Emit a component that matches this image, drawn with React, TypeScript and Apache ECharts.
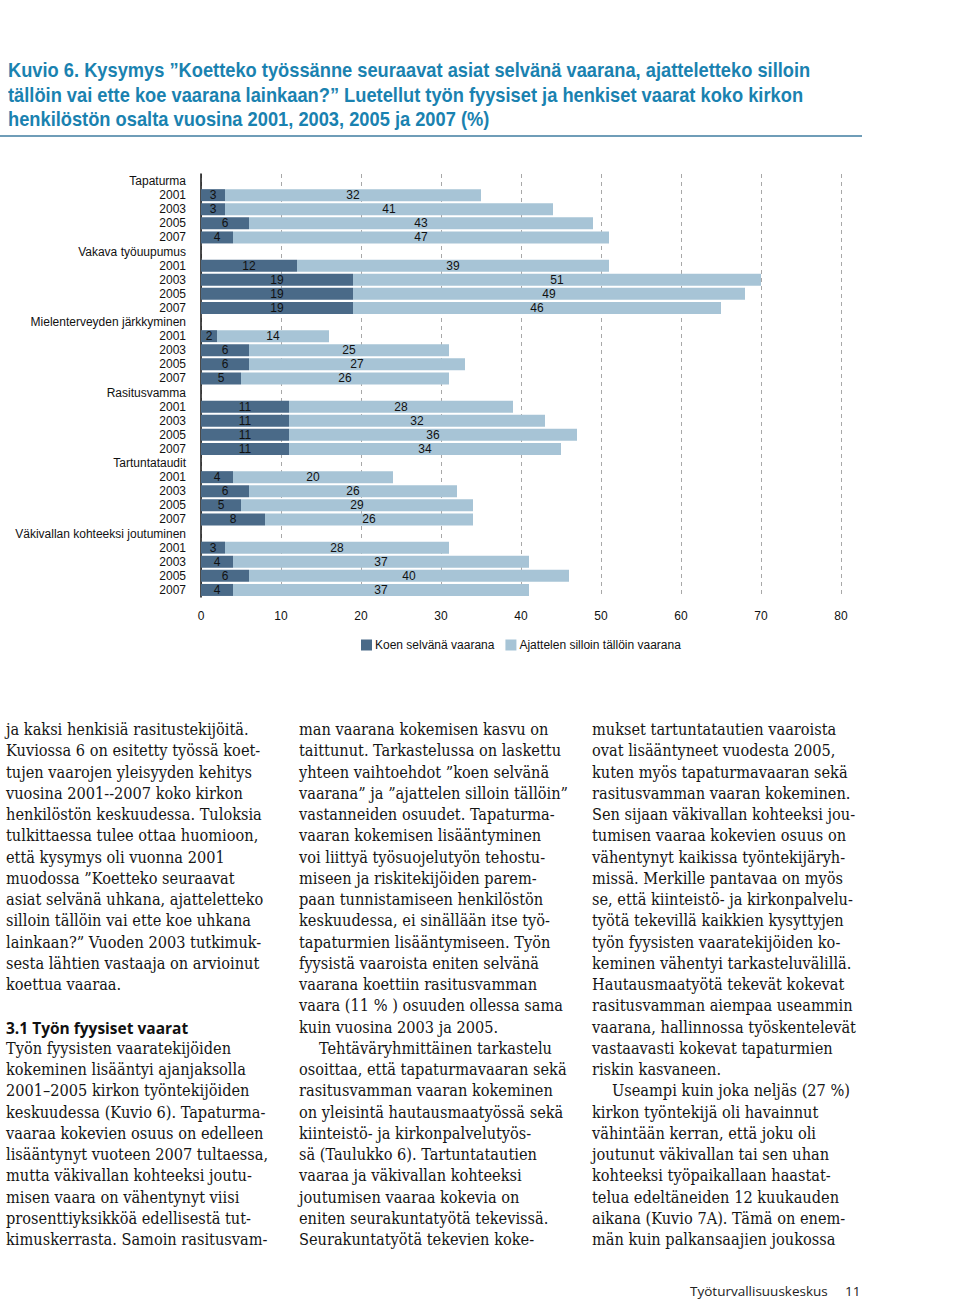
import React, { useEffect, useRef } from "react";
import * as echarts from "echarts";

const groups = [
  "Tapaturma",
  "Vakava työuupumus",
  "Mielenterveyden järkkyminen",
  "Rasitusvamma",
  "Tartuntataudit",
  "Väkivallan kohteeksi joutuminen",
];
const years = ["2001", "2003", "2005", "2007"];
const clearDanger = [
  [3, 3, 6, 4],
  [12, 19, 19, 19],
  [2, 6, 6, 5],
  [11, 11, 11, 11],
  [4, 6, 5, 8],
  [3, 4, 6, 4],
];
const sometimesDanger = [
  [32, 41, 43, 47],
  [39, 51, 49, 46],
  [14, 25, 27, 26],
  [28, 32, 36, 34],
  [20, 26, 29, 26],
  [28, 37, 40, 37],
];
const seriesNames = ["Koen selvänä vaarana", "Ajattelen silloin tällöin vaarana"];

const titleLines = [
  "Kuvio 6. Kysymys ”Koetteko työssänne seuraavat asiat selvänä vaarana, ajatteletteko silloin",
  "tällöin vai ette koe vaarana lainkaan?” Luetellut työn fyysiset ja henkiset vaarat koko kirkon",
  "henkilöstön osalta vuosina 2001, 2003, 2005 ja 2007 (%)",
];

const col1 = [
  "ja kaksi henkisiä rasitustekijöitä.",
  "Kuviossa 6 on esitetty työssä koet-",
  "tujen vaarojen yleisyyden kehitys",
  "vuosina 2001--2007 koko kirkon",
  "henkilöstön keskuudessa. Tuloksia",
  "tulkittaessa tulee ottaa huomioon,",
  "että kysymys oli vuonna 2001",
  "muodossa ”Koetteko seuraavat",
  "asiat selvänä uhkana, ajatteletteko",
  "silloin tällöin vai ette koe uhkana",
  "lainkaan?” Vuoden 2003 tutkimuk-",
  "sesta lähtien vastaaja on arvioinut",
  "koettua vaaraa.",
  "",
  "#3.1 Työn fyysiset vaarat",
  "Työn fyysisten vaaratekijöiden",
  "kokeminen lisääntyi ajanjaksolla",
  "2001–2005 kirkon työntekijöiden",
  "keskuudessa (Kuvio 6). Tapaturma-",
  "vaaraa kokevien osuus on edelleen",
  "lisääntynyt vuoteen 2007 tultaessa,",
  "mutta väkivallan kohteeksi joutu-",
  "misen vaara on vähentynyt viisi",
  "prosenttiyksikköä edellisestä tut-",
  "kimuskerrasta. Samoin rasitusvam-",
];
const col2 = [
  "man vaarana kokemisen kasvu on",
  "taittunut. Tarkastelussa on laskettu",
  "yhteen vaihtoehdot ”koen selvänä",
  "vaarana” ja ”ajattelen silloin tällöin”",
  "vastanneiden osuudet. Tapaturma-",
  "vaaran kokemisen lisääntyminen",
  "voi liittyä työsuojelutyön tehostu-",
  "miseen ja riskitekijöiden parem-",
  "paan tunnistamiseen henkilöstön",
  "keskuudessa, ei sinällään itse työ-",
  "tapaturmien lisääntymiseen. Työn",
  "fyysistä vaaroista eniten selvänä",
  "vaarana koettiin rasitusvamman",
  "vaara (11 % ) osuuden ollessa sama",
  "kuin vuosina 2003 ja 2005.",
  ">Tehtäväryhmittäinen tarkastelu",
  "osoittaa, että tapaturmavaaran sekä",
  "rasitusvamman vaaran kokeminen",
  "on yleisintä hautausmaatyössä sekä",
  "kiinteistö- ja kirkonpalvelutyös-",
  "sä (Taulukko 6). Tartuntatautien",
  "vaaraa ja väkivallan kohteeksi",
  "joutumisen vaaraa kokevia on",
  "eniten seurakuntatyötä tekevissä.",
  "Seurakuntatyötä tekevien koke-",
];
const col3 = [
  "mukset tartuntatautien vaaroista",
  "ovat lisääntyneet vuodesta 2005,",
  "kuten myös tapaturmavaaran sekä",
  "rasitusvamman vaaran kokeminen.",
  "Sen sijaan väkivallan kohteeksi jou-",
  "tumisen vaaraa kokevien osuus on",
  "vähentynyt kaikissa työntekijäryh-",
  "missä. Merkille pantavaa on myös",
  "se, että kiinteistö- ja kirkonpalvelu-",
  "työtä tekevillä kaikkien kysyttyjen",
  "työn fyysisten vaaratekijöiden ko-",
  "keminen vähentyi tarkasteluvälillä.",
  "Hautausmaatyötä tekevät kokevat",
  "rasitusvamman aiempaa useammin",
  "vaarana, hallinnossa työskentelevät",
  "vastaavasti kokevat tapaturmien",
  "riskin kasvaneen.",
  ">Useampi kuin joka neljäs (27 %)",
  "kirkon työntekijä oli havainnut",
  "vähintään kerran, että joku oli",
  "joutunut väkivallan tai sen uhan",
  "kohteeksi työpaikallaan haastat-",
  "telua edeltäneiden 12 kuukauden",
  "aikana (Kuvio 7A). Tämä on enem-",
  "män kuin palkansaajien joukossa",
];

const DARK = "#4a6a88";
const LIGHT = "#a7c4d6";
const CHART_FONT = "'Liberation Sans', Arial, sans-serif";

function buildRows() {
  const cats: string[] = [];
  const a: (number | string)[] = [];
  const b: (number | string)[] = [];
  groups.forEach((g, gi) => {
    cats.push(g);
    a.push("-");
    b.push("-");
    years.forEach((y, yi) => {
      cats.push(g + "::" + y);
      a.push(clearDanger[gi][yi]);
      b.push(sometimesDanger[gi][yi]);
    });
  });
  return { cats, a, b };
}

function Chart() {
  const ref = useRef<HTMLDivElement>(null);
  useEffect(() => {
    if (!ref.current) return;
    const chart = echarts.init(ref.current, null, { renderer: "svg" });
    const { cats, a, b } = buildRows();
    const labelStyle = {
      show: true,
      position: "inside" as const,
      color: "#111",
      fontSize: 12,
      fontFamily: CHART_FONT,
    };
    chart.setOption({
      animation: false,
      textStyle: { fontFamily: CHART_FONT },
      grid: { left: 201, top: 174, width: 640, height: 423, containLabel: false },
      legend: {
        data: seriesNames,
        left: 361,
        top: 639,
        padding: 0,
        itemWidth: 11,
        itemHeight: 11,
        itemGap: 11,
        icon: "rect",
        textStyle: { fontSize: 12, color: "#111", fontFamily: CHART_FONT, padding: [0, 0, 0, -2] },
      },
      xAxis: {
        type: "value",
        min: 0,
        max: 80,
        interval: 10,
        axisLine: { show: false },
        axisTick: { show: false },
        axisLabel: { color: "#111", fontSize: 12, margin: 13, fontFamily: CHART_FONT },
        splitLine: { show: true, lineStyle: { color: "#a8a8a8", type: [4, 4], width: 1 } },
      },
      yAxis: {
        type: "category",
        data: cats,
        inverse: true,
        axisLine: { show: true, lineStyle: { color: "#111", width: 1.5 } },
        axisTick: { show: false },
        axisLabel: {
          interval: 0,
          color: "#111",
          fontSize: 12,
          margin: 15,
          fontFamily: CHART_FONT,
          formatter: (v: string) => (v.indexOf("::") >= 0 ? v.split("::")[1] : v),
        },
        splitLine: { show: false },
      },
      series: [
        {
          name: seriesNames[0],
          type: "bar",
          stack: "total",
          data: a,
          barWidth: 12,
          itemStyle: { color: DARK },
          label: labelStyle,
        },
        {
          name: seriesNames[1],
          type: "bar",
          stack: "total",
          data: b,
          barWidth: 12,
          itemStyle: { color: LIGHT },
          label: labelStyle,
        },
      ],
    });
    return () => chart.dispose();
  }, []);
  return <div ref={ref} style={{ position: "absolute", left: 0, top: 0, width: 960, height: 700 }} />;
}

const SERIF = "'DejaVu Serif Condensed', 'DejaVu Serif', serif";

function Column({ lines, x }: { lines: string[]; x: number }) {
  return (
    <>
      {lines.map((ln, i) => {
        if (!ln) return null;
        const top = 730 - 11 + i * 21.25;
        if (ln.startsWith("#")) {
          return (
            <div
              key={i}
              style={{
                position: "absolute",
                left: x,
                top: top,
                lineHeight: "22px",
                fontFamily: "'Open Sans', sans-serif",
                fontWeight: 700,
                fontSize: 15.5,
                color: "#111",
                whiteSpace: "nowrap",
              }}
            >
              {ln.slice(1)}
            </div>
          );
        }
        const indent = ln.startsWith(">");
        return (
          <div
            key={i}
            style={{
              position: "absolute",
              left: x + (indent ? 20 : 0),
              top: top,
              lineHeight: "22px",
              fontFamily: SERIF,
              fontStretch: "condensed",
              fontSize: 16.2,
              color: "#151515",
              whiteSpace: "nowrap",
            }}
          >
            {indent ? ln.slice(1) : ln}
          </div>
        );
      })}
    </>
  );
}

export default function App() {
  return (
    <div style={{ position: "absolute", left: 0, top: 0, width: 960, height: 1300, background: "#fff", overflow: "hidden" }}>
      <Chart />
      {titleLines.map((t, i) => (
        <div
          key={i}
          style={{
            position: "absolute",
            left: 8,
            top: 56 + i * 24.5,
            lineHeight: "28px",
            fontFamily: "'Liberation Sans', Arial, sans-serif",
            fontWeight: 700,
            fontSize: 21,
            color: "#1a82b0",
            whiteSpace: "nowrap",
            transform: "scaleX(0.87)",
            transformOrigin: "0 50%",
          }}
        >
          {t}
        </div>
      ))}
      <div style={{ position: "absolute", left: 0, top: 135, width: 862, height: 1.5, background: "#6f9db8" }} />
      <Column lines={col1} x={6} />
      <Column lines={col2} x={299} />
      <Column lines={col3} x={592} />
      <div
        style={{
          position: "absolute",
          left: 690,
          top: 1281,
          lineHeight: "20px",
          fontFamily: "'Open Sans', sans-serif",
          fontSize: 13.5,
          color: "#222",
          whiteSpace: "nowrap",
        }}
      >
        Työturvallisuuskeskus
      </div>
      <div
        style={{
          position: "absolute",
          left: 845,
          top: 1281,
          lineHeight: "20px",
          fontFamily: "'Open Sans', sans-serif",
          fontSize: 13.5,
          color: "#222",
        }}
      >
        11
      </div>
    </div>
  );
}
